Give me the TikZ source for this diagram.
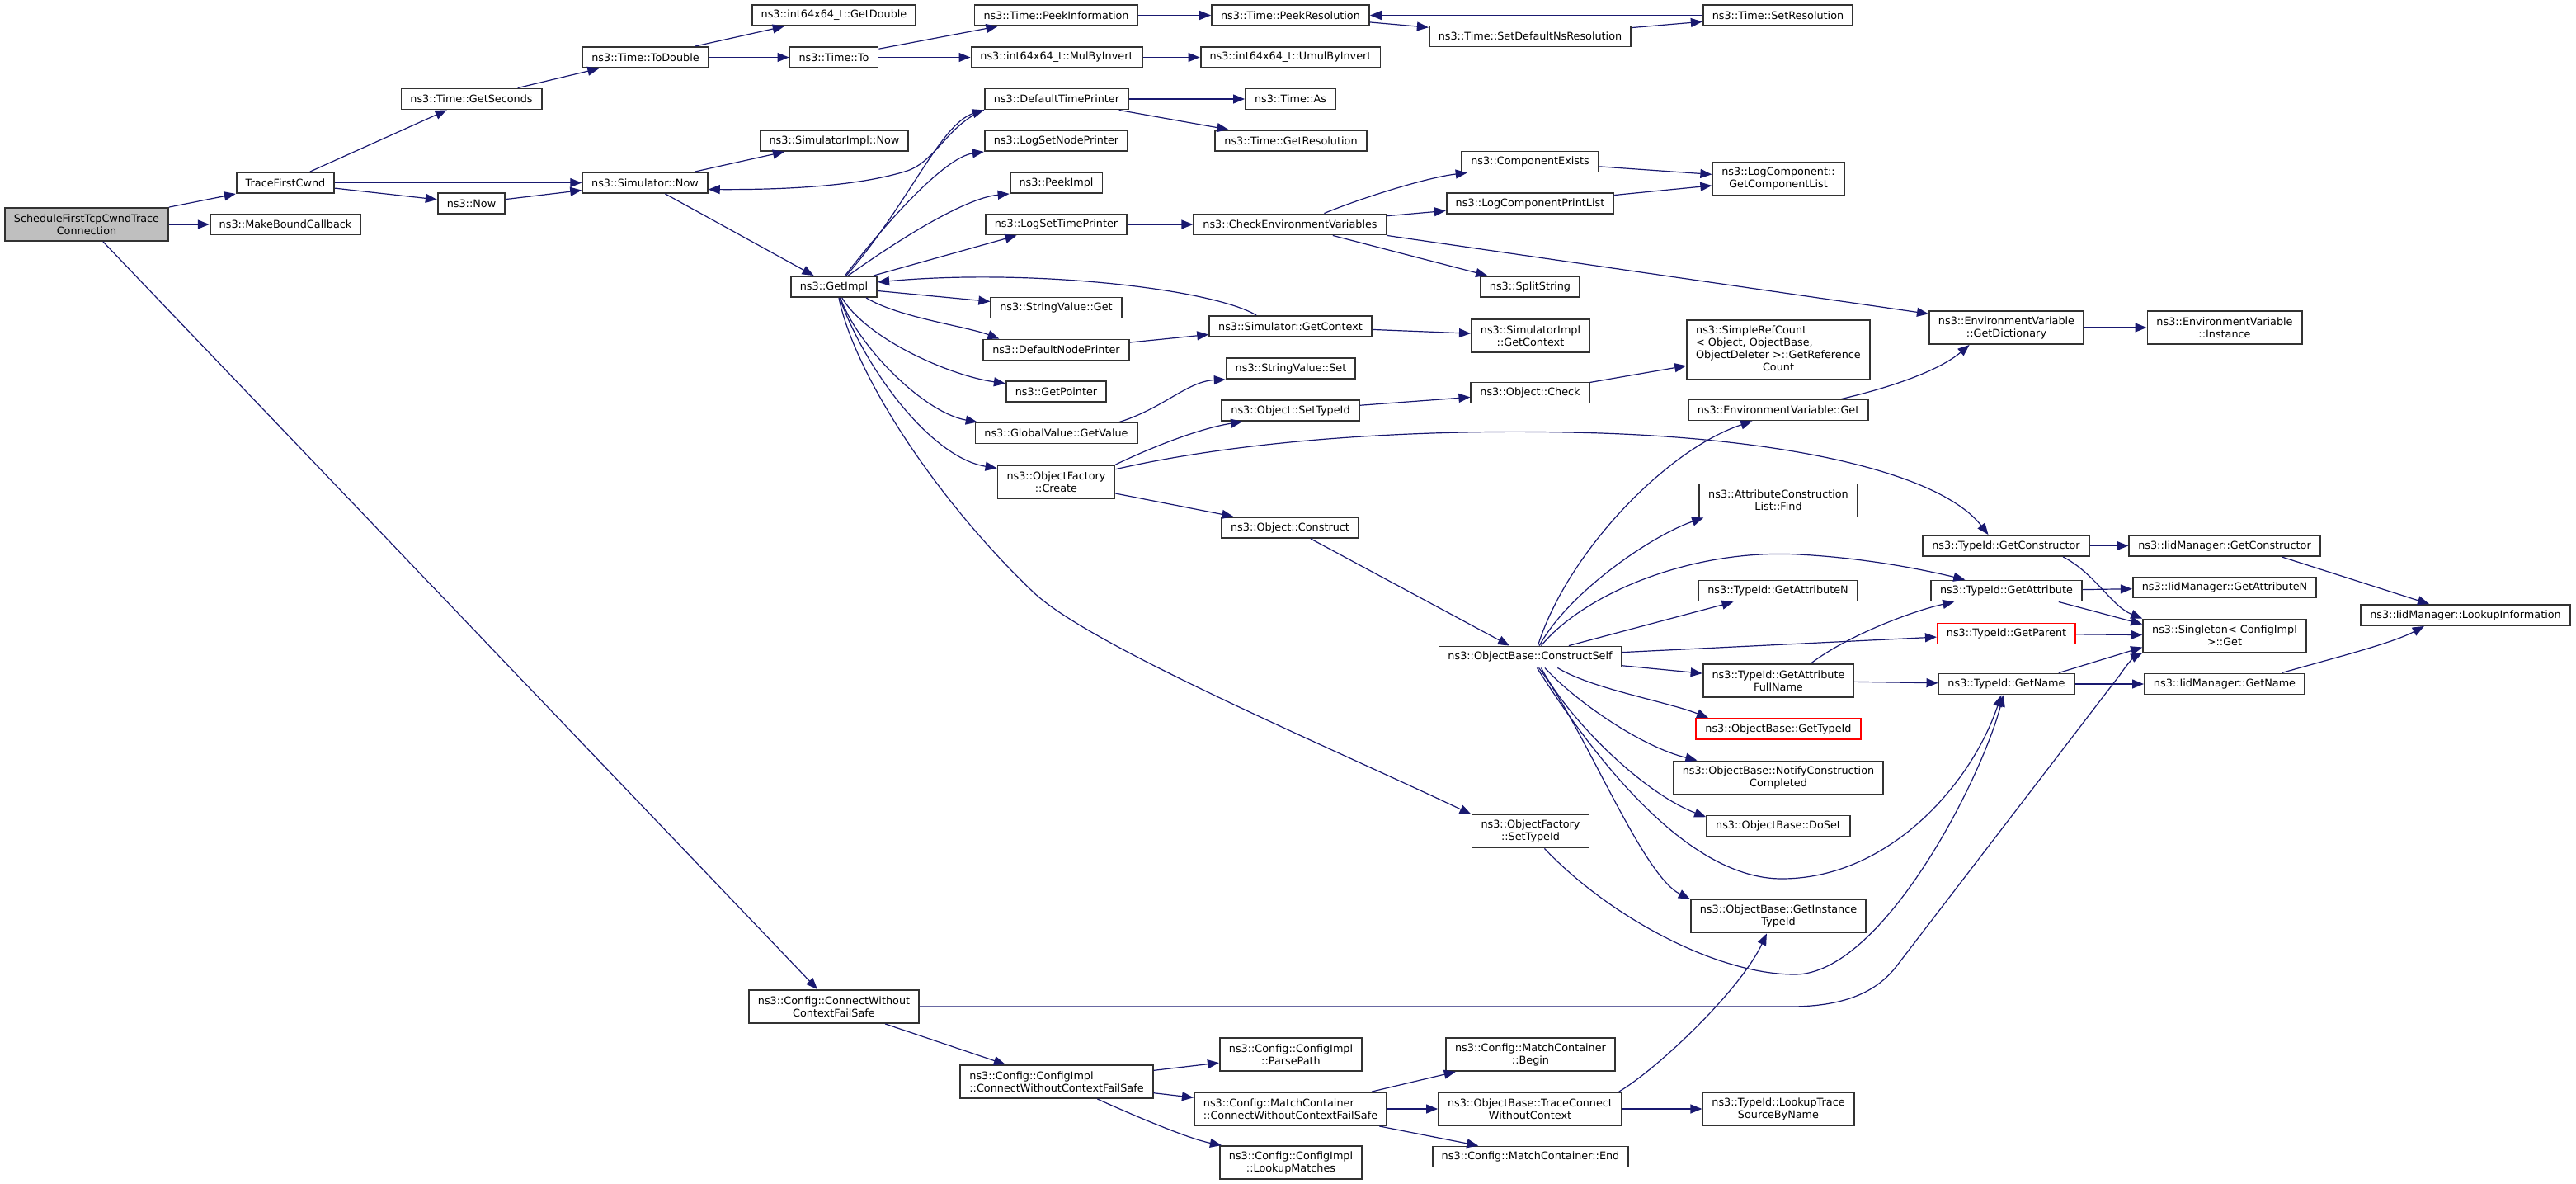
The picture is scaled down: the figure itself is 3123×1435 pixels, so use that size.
\documentclass[tikz,border=0pt]{standalone}
\usepackage{fontspec}
\setsansfont{DejaVu Sans}
\usepackage{tikz}
\usetikzlibrary{arrows.meta}
\definecolor{callblue}{RGB}{25,25,112}
\definecolor{boxgrey}{RGB}{50,50,50}
\definecolor{rootgrey}{RGB}{191,191,191}
\definecolor{badred}{RGB}{255,0,0}
\tikzstyle{func}=[draw=boxgrey,line width=0.95pt,fill=white,rectangle,minimum height=12.5pt,inner xsep=5.5pt,inner ysep=2.8pt,align=center,font=\sffamily\fontsize{6.4}{7.5}\selectfont]
\tikzstyle{tall}=[minimum height=20pt]
\tikzstyle{call}=[draw=callblue,line width=0.6pt,-{Triangle[length=7pt,width=5.5pt]}]

\begin{document}
\begin{tikzpicture}[x=0.5pt,y=-0.5pt]
    \node[func,tall,fill=rootgrey] (sched) at (105,272) {ScheduleFirstTcpCwndTrace\\Connection};
    \node[func] (tfc) at (346,221.5) {TraceFirstCwnd};
    \node[func] (mbc) at (346,272) {ns3::MakeBoundCallback};
    \node[func] (getsec) at (571.5,120) {ns3::Time::GetSeconds};
    \node[func] (now) at (571.5,246.5) {ns3::Now};
    \node[func] (todbl) at (782.5,69.5) {ns3::Time::ToDouble};
    \node[func] (simnow) at (782,221.5) {ns3::Simulator::Now};
    \node[func] (getdbl) at (1011,18.5) {ns3::int64x64\_t::GetDouble};
    \node[func] (timeto) at (1011,69.5) {ns3::Time::To};
    \node[func] (simimplnow) at (1011.5,170.5) {ns3::SimulatorImpl::Now};
    \node[func] (getimpl) at (1011,347.5) {ns3::GetImpl};
    \node[func,tall] (cfgconn) at (1011,1220) {ns3::Config::ConnectWithout\\ContextFailSafe};
    \node[func] (peekinfo) at (1280.5,18.5) {ns3::Time::PeekInformation};
    \node[func] (mulinv) at (1281,69.5) {ns3::int64x64\_t::MulByInvert};
    \node[func] (deftime) at (1281,120) {ns3::DefaultTimePrinter};
    \node[func] (lognode) at (1280.5,170.5) {ns3::LogSetNodePrinter};
    \node[func] (peekimpl) at (1280.5,221.5) {ns3::PeekImpl};
    \node[func] (logtime) at (1280.5,272) {ns3::LogSetTimePrinter};
    \node[func] (strget) at (1280.5,373) {ns3::StringValue::Get};
    \node[func] (defnode) at (1280.5,424) {ns3::DefaultNodePrinter};
    \node[func] (getptr) at (1280.5,474.5) {ns3::GetPointer};
    \node[func] (gvget) at (1280.5,525) {ns3::GlobalValue::GetValue};
    \node[func,tall] (ofcreate) at (1280.5,584) {ns3::ObjectFactory\\::Create};
    \node[func,tall,align=left] (implconn) at (1281,1311) {ns3::Config::ConfigImpl\\::ConnectWithoutContextFailSafe};
    \node[func] (peekres) at (1564.5,18.5) {ns3::Time::PeekResolution};
    \node[func] (umulinv) at (1564.5,69.5) {ns3::int64x64\_t::UmulByInvert};
    \node[func] (timeas) at (1564.5,120) {ns3::Time::As};
    \node[func] (getres) at (1565,170.5) {ns3::Time::GetResolution};
    \node[func] (checkenv) at (1564,272) {ns3::CheckEnvironmentVariables};
    \node[func] (simctx) at (1564.5,395.5) {ns3::Simulator::GetContext};
    \node[func] (strset) at (1565,446.5) {ns3::StringValue::Set};
    \node[func] (objsettid) at (1564.5,497.5) {ns3::Object::SetTypeId};
    \node[func] (objconstr) at (1564,639.5) {ns3::Object::Construct};
    \node[func,tall] (parsepath) at (1565,1278) {ns3::Config::ConfigImpl\\::ParsePath};
    \node[func,tall,align=left] (mcconn) at (1564.5,1344) {ns3::Config::MatchContainer\\::ConnectWithoutContextFailSafe};
    \node[func,tall] (lookupm) at (1565,1409) {ns3::Config::ConfigImpl\\::LookupMatches};
    \node[func] (setdefns) at (1855,44) {ns3::Time::SetDefaultNsResolution};
    \node[func] (compex) at (1855,196) {ns3::ComponentExists};
    \node[func] (logprint) at (1855,246.5) {ns3::LogComponentPrintList};
    \node[func] (splitstr) at (1855,347.5) {ns3::SplitString};
    \node[func,tall] (implctx) at (1855.5,407) {ns3::SimulatorImpl\\::GetContext};
    \node[func] (objcheck) at (1855,476) {ns3::Object::Check};
    \node[func] (cself) at (1855,796) {ns3::ObjectBase::ConstructSelf};
    \node[func,tall] (ofsettid) at (1855.5,1007.5) {ns3::ObjectFactory\\::SetTypeId};
    \node[func,tall] (mcbegin) at (1855.5,1278) {ns3::Config::MatchContainer\\::Begin};
    \node[func,tall] (traceconn) at (1855,1344) {ns3::ObjectBase::TraceConnect\\WithoutContext};
    \node[func] (mcend) at (1855.5,1402) {ns3::Config::MatchContainer::End};
    \node[func] (setres) at (2155.5,18.5) {ns3::Time::SetResolution};
    \node[func,tall] (complist) at (2156,217) {ns3::LogComponent::\\GetComponentList};
    \node[func,minimum height=35pt] (refcount) at (2156,424) {\begin{tabular}{@{}l@{}}ns3::SimpleRefCount\\< Object, ObjectBase,\\ObjectDeleter >::GetReference\\\multicolumn{1}{@{}c@{}}{Count}\end{tabular}};
    \node[func] (envget) at (2156,497) {ns3::EnvironmentVariable::Get};
    \node[func,tall] (attrfind) at (2156,606.5) {ns3::AttributeConstruction\\List::Find};
    \node[func] (getattrn) at (2155.5,716) {ns3::TypeId::GetAttributeN};
    \node[func,tall] (attrfull) at (2156,825) {ns3::TypeId::GetAttribute\\FullName};
    \node[func,draw=badred] (obgettid) at (2156,883.5) {ns3::ObjectBase::GetTypeId};
    \node[func,tall] (notify) at (2156,942.5) {ns3::ObjectBase::NotifyConstruction\\Completed};
    \node[func] (doset) at (2156,1001) {ns3::ObjectBase::DoSet};
    \node[func,tall] (insttid) at (2156,1110.5) {ns3::ObjectBase::GetInstance\\TypeId};
    \node[func,tall] (tracesrc) at (2156,1344) {ns3::TypeId::LookupTrace\\SourceByName};
    \node[func,tall] (getdict) at (2432.5,397) {ns3::EnvironmentVariable\\::GetDictionary};
    \node[func] (tidctor) at (2432,661.5) {ns3::TypeId::GetConstructor};
    \node[func] (tidattr) at (2432.5,716) {ns3::TypeId::GetAttribute};
    \node[func,draw=badred] (tidparent) at (2432.5,768) {ns3::TypeId::GetParent};
    \node[func] (tidname) at (2432.5,829) {ns3::TypeId::GetName};
    \node[func,tall] (envinst) at (2697,397) {ns3::EnvironmentVariable\\::Instance};
    \node[func] (iidctor) at (2697,661.5) {ns3::IidManager::GetConstructor};
    \node[func] (iidattrn) at (2697,712) {ns3::IidManager::GetAttributeN};
    \node[func,tall] (singleton) at (2697,770.5) {ns3::Singleton< ConfigImpl\\>::Get};
    \node[func] (iidname) at (2697,829) {ns3::IidManager::GetName};
    \node[func] (lookupinfo) at (2989,745.5) {ns3::IidManager::LookupInformation};

    \path[call] (sched.north east) -- (tfc.south west);
    \path[call] (sched) -- (mbc);
    \path[call] (sched) -- (cfgconn);
    \path[call] (tfc) -- (getsec);
    \path[call] (tfc) -- (simnow);
    \path[call] (tfc) -- (now);
    \path[call] (now) -- (simnow);
    \path[call] (getsec) -- (todbl);
    \path[call] (todbl) -- (getdbl);
    \path[call] (todbl) -- (timeto);
    \path[call] (timeto) -- (peekinfo);
    \path[call] (timeto) -- (mulinv);
    \path[call] (mulinv) -- (umulinv);
    \path[call] (peekinfo) -- (peekres);
    \path[call] (peekres) -- (setdefns);
    \path[call] (setdefns) -- (setres);
    \path[call] (setres) -- (peekres);
    \path[call] (simnow) -- (simimplnow);
    \path[call] (simnow) -- (getimpl);
    \path[call] (deftime.south west) .. controls (1150,150) and (1135,195) .. (1100,207) .. controls (1040,226) and (950,230) .. (simnow.-6);
    \path[call] (getimpl.42) .. controls (1100,250) and (1140,150) .. (deftime.south west);
    \path[call] (getimpl.45) .. controls (1090,250) and (1150,190) .. (lognode.south west);
    \path[call] (getimpl.38) .. controls (1090,290) and (1170,240) .. (peekimpl.south west);
    \path[call] (getimpl) -- (logtime);
    \path[call] (getimpl) -- (strget);
    \path[call] (getimpl.-19) .. controls (1090,385) and (1170,395) .. (defnode.169);
    \path[call] (getimpl.-54) .. controls (1050,410) and (1150,455) .. (getptr.171);
    \path[call] (getimpl.-60) .. controls (1040,420) and (1120,500) .. (gvget.172);
    \path[call] (getimpl.-63) .. controls (1050,450) and (1130,555) .. (ofcreate.167);
    \path[call] (getimpl.-66) .. controls (1035,450) and (1130,600) .. (1252,717) .. controls (1320,782) and (1600,900) .. (ofsettid.164);
    \path[call] (deftime) -- (timeas);
    \path[call] (deftime) -- (getres);
    \path[call] (logtime) -- (checkenv);
    \path[call] (checkenv.18) .. controls (1650,240) and (1730,215) .. (compex.190);
    \path[call] (checkenv) -- (logprint);
    \path[call] (checkenv) -- (splitstr);
    \path[call] (checkenv.south east) -- (getdict.170);
    \path[call] (compex) -- (complist);
    \path[call] (logprint) -- (complist);
    \path[call] (simctx.162) .. controls (1470,350) and (1250,325) .. (getimpl.6);
    \path[call] (defnode) -- (simctx);
    \path[call] (simctx) -- (implctx);
    \path[call] (gvget.10) .. controls (1410,495) and (1440,462) .. (strset.south west);
    \path[call] (ofcreate.north east) .. controls (1390,545) and (1450,520) .. (objsettid.193);
    \path[call] (ofcreate.12) .. controls (1500,535) and (1700,520) .. (1900,524) .. controls (2150,528) and (2350,570) .. (tidctor.148);
    \path[call] (ofcreate) -- (objconstr);
    \path[call] (objsettid) -- (objcheck);
    \path[call] (objcheck) -- (refcount);
    \path[call] (envget.10) .. controls (2290,470) and (2350,450) .. (getdict.205);
    \path[call] (getdict) -- (envinst);
    \path[call] (objconstr) -- (cself);
    \path[call] (cself.55) .. controls (1900,670) and (2020,545) .. (envget.203);
    \path[call] (cself.50) .. controls (1900,720) and (2000,650) .. (attrfind.193);
    \path[call] (cself.45) .. controls (1920,720) and (2050,665) .. (2180,672) .. controls (2260,676) and (2330,690) .. (tidattr.165);
    \path[call] (cself.16) -- (getattrn.194);
    \path[call] (cself) -- (tidparent);
    \path[call] (cself) -- (attrfull);
    \path[call] (cself.-22) .. controls (1930,835) and (2020,850) .. (obgettid.171);
    \path[call] (cself.-37) .. controls (1910,850) and (1990,905) .. (notify.168);
    \path[call] (cself.-45) .. controls (1900,870) and (1990,960) .. (doset.173);
    \path[call] (cself.-52) .. controls (1920,880) and (1990,1060) .. (insttid.169);
    \path[call] (cself.-58) .. controls (1940,930) and (2050,1065) .. (2160,1065) .. controls (2290,1065) and (2390,950) .. (tidname.245);
    \path[call] (ofsettid.-51) .. controls (1950,1110) and (2080,1181) .. (2176,1181) .. controls (2280,1181) and (2400,950) .. (tidname.255);
    \path[call] (attrfull.28) .. controls (2240,770) and (2320,740) .. (tidattr.192);
    \path[call] (attrfull) -- (tidname);
    \path[call] (tidctor) -- (iidctor);
    \path[call] (tidctor.-11) .. controls (2540,695) and (2560,735) .. (singleton.north west);
    \path[call] (tidattr) -- (iidattrn);
    \path[call] (tidattr.-12) -- (singleton.172);
    \path[call] (tidparent) -- (singleton);
    \path[call] (tidname.12) -- (singleton.188);
    \path[call] (tidname) -- (iidname);
    \path[call] (iidctor.-11) -- (lookupinfo.163);
    \path[call] (iidname.11) .. controls (2820,800) and (2900,780) .. (lookupinfo.195);
    \path[call] (cfgconn.east) -- (2170,1220) .. controls (2235,1220) and (2275,1203) .. (2300,1170) -- (2570,818) .. controls (2580,803) and (2588,796) .. (singleton.south west);
    \path[call] (cfgconn) -- (implconn);
    \path[call] (implconn) -- (parsepath);
    \path[call] (implconn) -- (mcconn);
    \path[call] (implconn.-23) .. controls (1370,1350) and (1440,1380) .. (lookupm.166);
    \path[call] (mcconn.12) -- (mcbegin.193);
    \path[call] (mcconn) -- (traceconn);
    \path[call] (mcconn.-11.5) -- (mcend.168);
    \path[call] (traceconn.11) .. controls (2010,1295) and (2110,1200) .. (insttid.236);
    \path[call] (traceconn) -- (tracesrc);

    \pgfresetboundingbox
    \path [use as bounding box] (0,0) rectangle (3123,1435);
\end{tikzpicture}
\end{document}
